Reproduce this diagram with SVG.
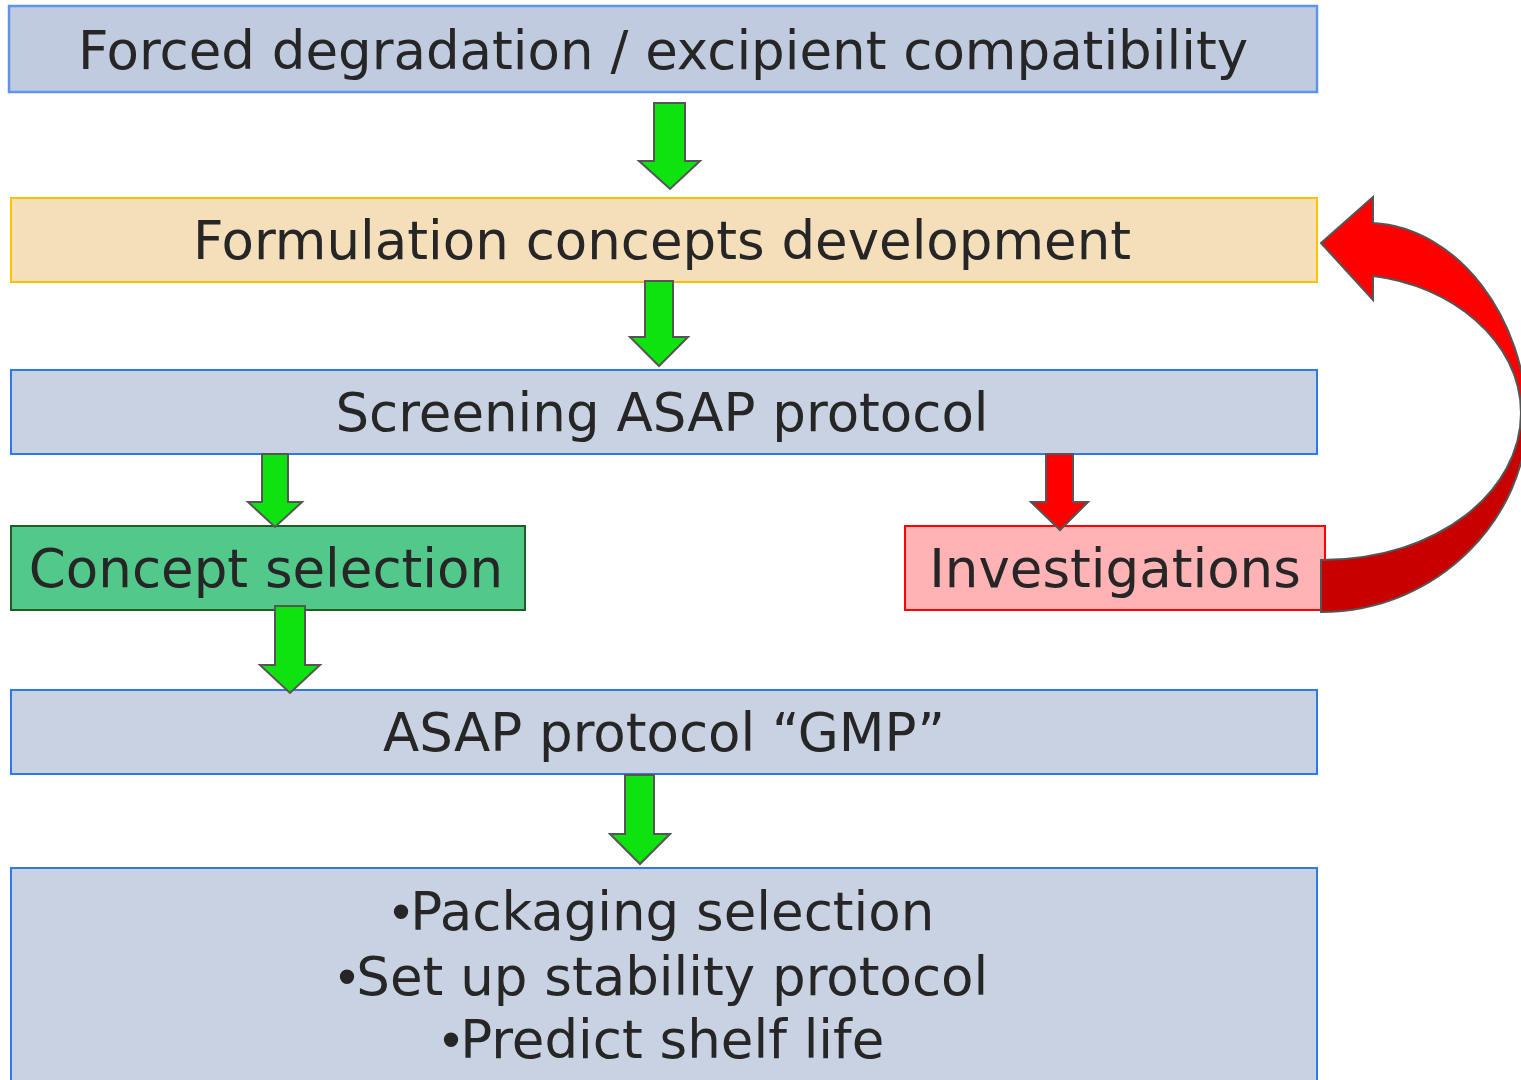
<svg xmlns="http://www.w3.org/2000/svg" width="1521" height="1080" viewBox="0 0 1521 1080">
<style>
.t{font-family:"DejaVu Sans","Verdana",sans-serif;font-size:53px;fill:#262626;text-anchor:middle}
.b{font-family:"Liberation Sans",Arial,sans-serif}
.blue{fill:#c9d2e2;stroke:#2f7ae5;stroke-width:2}
.ga{fill:#0fe30f;stroke:#555;stroke-width:2;stroke-linejoin:miter}
.ra{fill:#ff0000;stroke:#555;stroke-width:2}
</style>
<rect width="1521" height="1080" fill="#fff"/>
<g id="n1"><rect x="9" y="6" width="1308" height="86" fill="#c0cbe0" stroke="#5f93f0" stroke-width="2.5"/><text class="t" x="663" y="69">Forced degradation / excipient compatibility</text></g>
<g id="n2"><rect x="11" y="198" width="1306" height="84" fill="#f5dfbb" stroke="#ffc000" stroke-width="2"/><text class="t" x="662" y="259">Formulation concepts development</text></g>
<g id="n3"><rect class="blue" x="11" y="370" width="1306" height="84"/><text class="t" x="662" y="431">Screening ASAP protocol</text></g>
<g id="n4"><rect x="11" y="526" width="514" height="84" fill="#52c98a" stroke="#1f5f24" stroke-width="2"/><text class="t" x="266" y="587">Concept selection</text></g>
<g id="n5"><rect x="905" y="526" width="420" height="84" fill="#ffb3b5" stroke="#ff0000" stroke-width="2"/><text class="t" x="1115" y="587">Investigations</text></g>
<g id="n6"><rect class="blue" x="11" y="690" width="1306" height="84"/><text class="t" x="664" y="751">ASAP protocol “GMP”</text></g>
<g id="n7"><rect class="blue" x="11" y="868" width="1306" height="230"/><text class="t" x="663" y="930"><tspan class="b">•</tspan>Packaging selection</text><text class="t" x="663" y="995"><tspan class="b">•</tspan>Set up stability protocol</text><text class="t" x="663" y="1058"><tspan class="b">•</tspan>Predict shelf life</text></g>
<g id="connectors">
<path class="ga" d="M654,103 H685 V161 H700 L670,189 L639,161 H654 Z"/>
<path class="ga" d="M645,281 H673 V337 H688 L659,366 L630,337 H645 Z"/>
<path class="ga" d="M262,454 H288 V502 H302 L275,527 L248,502 H262 Z"/>
<path class="ga" d="M275,606 H305 V665 H320 L290,693 L260,665 H275 Z"/>
<path class="ga" d="M625,775 H654 V834 H670 L640,864 L610,834 H625 Z"/>
<path class="ra" d="M1046,454 H1073 V502 H1088 L1060,530 L1031,502 H1046 Z"/>
<path d="M1373,197 L1321,243 L1373,300 L1373,276 C1450,285 1521,340 1521,413 L1527,418 C1525,320 1460,228 1373,223 Z" fill="#ff0000"/>
<path d="M1521,413 C1521,490 1440,560 1321,560 L1321,612 C1440,612 1527,515 1527,418 Z" fill="#c80000"/>
<path d="M1373,197 L1321,243 L1373,300 L1373,276 C1450,285 1521,340 1521,413 C1521,490 1440,560 1321,560 L1321,612 C1440,612 1527,515 1527,418 C1525,320 1460,228 1373,223 Z" fill="none" stroke="#555" stroke-width="2"/>
</g>
</svg>
